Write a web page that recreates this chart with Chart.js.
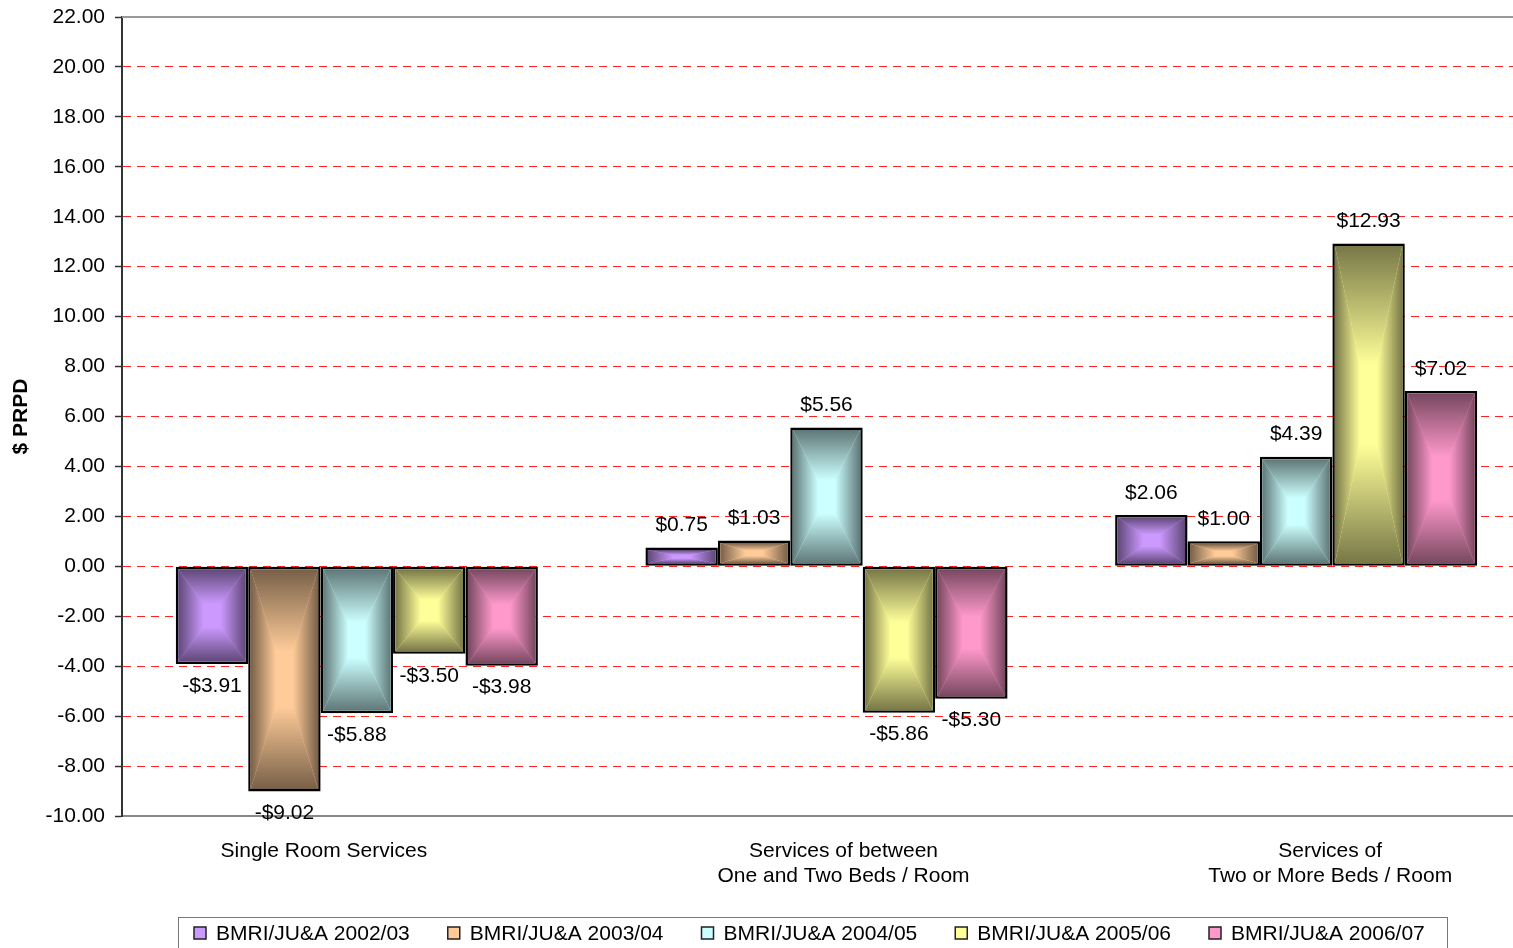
<!DOCTYPE html>
<html>
<head>
<meta charset="utf-8">
<script src="https://cdn.jsdelivr.net/npm/chart.js@4/dist/chart.umd.min.js"></script>
<style>
  html, body { margin: 0; padding: 0; background: #fff; overflow: hidden; }
  #wrap { width: 1513px; height: 948px; overflow: hidden; position: relative; }
  canvas { display: block; }
</style>
</head>
<body>
<div id="wrap"><canvas id="c" width="1531" height="948"></canvas></div>
<script>
// ---- data ----
const categories = [
  ["Single Room Services"],
  ["Services of between", "One and Two Beds / Room"],
  ["Services of", "Two or More Beds / Room"]
];
const seriesNames = [
  "BMRI/JU&A 2002/03",
  "BMRI/JU&A 2003/04",
  "BMRI/JU&A 2004/05",
  "BMRI/JU&A 2005/06",
  "BMRI/JU&A 2006/07"
];
const values0203 = [-3.91, 0.75, 2.06];
const values0304 = [-9.02, 1.03, 1.00];
const values0405 = [-5.88, 5.56, 4.39];
const values0506 = [-3.50, -5.86, 12.93];
const values0607 = [-3.98, -5.30, 7.02];
const yMin = -10, yMax = 22, yStep = 2;
const yTitle = "$ PRPD";

// ---- styles ----
const centerColors = ["#CC99FF", "#FFCC99", "#CCFFFF", "#FFFF99", "#FF99CC"];
const FONT = "'Liberation Sans', Arial, Helvetica, sans-serif";
const catLabelShift = [-33, 17, 34];
const BW = 2.5;

function darken(hex, f) {
  const n = parseInt(hex.slice(1), 16);
  const r = Math.round(((n >> 16) & 255) * f);
  const g = Math.round(((n >> 8) & 255) * f);
  const b = Math.round((n & 255) * f);
  return `rgb(${r},${g},${b})`;
}

const allValues = [values0203, values0304, values0405, values0506, values0607];
const datasets = allValues.map((vals, i) => ({
  label: seriesNames[i],
  data: vals,
  backgroundColor: centerColors[i],
  borderColor: "#000",
  borderWidth: BW,
  borderSkipped: false,
  categoryPercentage: 0.771,
  barPercentage: 1.0
}));

// gradient "from center" fill inside each bar
const boxGradientPlugin = {
  id: "boxGradient",
  afterDatasetDraw(chart, args) {
    const ctx = chart.ctx;
    const i = args.index;
    const meta = args.meta;
    const c0 = centerColors[i];
    const c1 = darken(c0, 0.47);
    const b = BW;
    meta.data.forEach(el => {
      const p = el.getProps(["x", "y", "base", "width"], true);
      const x0 = p.x - p.width / 2 + b, x1 = p.x + p.width / 2 - b;
      const yT = Math.min(p.y, p.base) + b, yB = Math.max(p.y, p.base) - b;
      if (yB - yT < 1 || x1 - x0 < 1) return;
      const cx = (x0 + x1) / 2, cy = (yT + yB) / 2;
      ctx.save();
      const tri = (pts, gx0, gy0, gx1, gy1) => {
        const g = ctx.createLinearGradient(gx0, gy0, gx1, gy1);
        g.addColorStop(0, c0);
        g.addColorStop(0.25, c0);
        g.addColorStop(1, c1);
        ctx.fillStyle = g;
        ctx.beginPath();
        ctx.moveTo(pts[0][0], pts[0][1]);
        ctx.lineTo(pts[1][0], pts[1][1]);
        ctx.lineTo(pts[2][0], pts[2][1]);
        ctx.closePath();
        ctx.fill();
      };
      tri([[x0, yT], [x1, yT], [cx, cy]], cx, cy, cx, yT);
      tri([[x0, yB], [x1, yB], [cx, cy]], cx, cy, cx, yB);
      tri([[x0, yT], [x0, yB], [cx, cy]], cx, cy, x0, cy);
      tri([[x1, yT], [x1, yB], [cx, cy]], cx, cy, x1, cy);
      ctx.restore();
    });
  }
};

const labelsPlugin = {
  id: "labelsAndLegend",
  afterDraw(chart) {
    const ctx = chart.ctx;
    const area = chart.chartArea;
    ctx.save();
    // top border line
    ctx.strokeStyle = "#999";
    ctx.lineWidth = 2;
    ctx.beginPath();
    ctx.moveTo(area.left, area.top);
    ctx.lineTo(area.right, area.top);
    ctx.stroke();

    // data labels
    ctx.font = "21px " + FONT;
    ctx.fillStyle = "#000";
    ctx.textAlign = "center";
    ctx.textBaseline = "middle";
    chart.data.datasets.forEach((ds, di) => {
      const meta = chart.getDatasetMeta(di);
      meta.data.forEach((el, j) => {
        const v = ds.data[j];
        const p = el.getProps(["x", "y"], true);
        const txt = (v < 0 ? "-" : "") + "$" + Math.abs(v).toFixed(2);
        const y = v < 0 ? p.y + 22 : p.y - 22;
        ctx.fillText(txt, p.x, y);
      });
    });

    // category labels
    const xs = chart.scales.x;
    chart.data.labels.forEach((lab, i) => {
      const cx = xs.getPixelForValue(i) + catLabelShift[i];
      lab.forEach((line, k) => {
        ctx.fillText(line, cx, 851 + k * 25.5);
      });
    });

    // legend
    ctx.strokeStyle = "#777";
    ctx.lineWidth = 1;
    ctx.strokeRect(178.5, 917.5, 1269, 40);
    ctx.textAlign = "left";
    chart.data.datasets.forEach((ds, i) => {
      const x = 194 + i * 253.75;
      const y = 933;
      ctx.fillStyle = centerColors[i];
      ctx.fillRect(x, y - 6, 12, 12);
      ctx.strokeStyle = "#222";
      ctx.lineWidth = 1.5;
      ctx.strokeRect(x, y - 6, 12, 12);
      ctx.fillStyle = "#000";
      ctx.fillText(ds.label, x + 22, y + 1);
    });
    ctx.restore();
  }
};

new Chart(document.getElementById("c"), {
  type: "bar",
  data: { labels: categories, datasets: datasets },
  options: {
    responsive: false,
    animation: false,
    devicePixelRatio: 1,
    layout: { padding: { left: 0, right: 0, top: 17, bottom: 0 } },
    plugins: {
      legend: { display: false },
      tooltip: { enabled: false }
    },
    scales: {
      x: {
        grid: { display: false },
        border: { display: true, color: "#888", width: 2 },
        ticks: { display: false },
        afterFit(scale) { scale.height = 132; }
      },
      y: {
        min: yMin,
        max: yMax,
        ticks: {
          stepSize: yStep,
          color: "#000",
          font: { family: FONT, size: 21 },
          padding: 10,
          callback: v => Number(v).toFixed(2)
        },
        grid: {
          color: ctx => (ctx.tick && (ctx.tick.value === yMax || ctx.tick.value === yMin)) ? "rgba(0,0,0,0)" : "#FF2020",
          lineWidth: 1,
          tickColor: "#333",
          tickLength: 7,
          tickWidth: 1.5
        },
        border: { display: true, color: "#333", width: 2, dash: [8, 6] },
        title: {
          display: true,
          text: yTitle,
          color: "#000",
          font: { family: FONT, size: 21, weight: "bold" },
          padding: { top: 9, bottom: 0 }
        },
        afterFit(scale) {
          scale.width = 122;
          scale.paddingTop = 0;
          scale.paddingBottom = 0;
        }
      }
    }
  },
  plugins: [boxGradientPlugin, labelsPlugin]
});
</script>
</body>
</html>
